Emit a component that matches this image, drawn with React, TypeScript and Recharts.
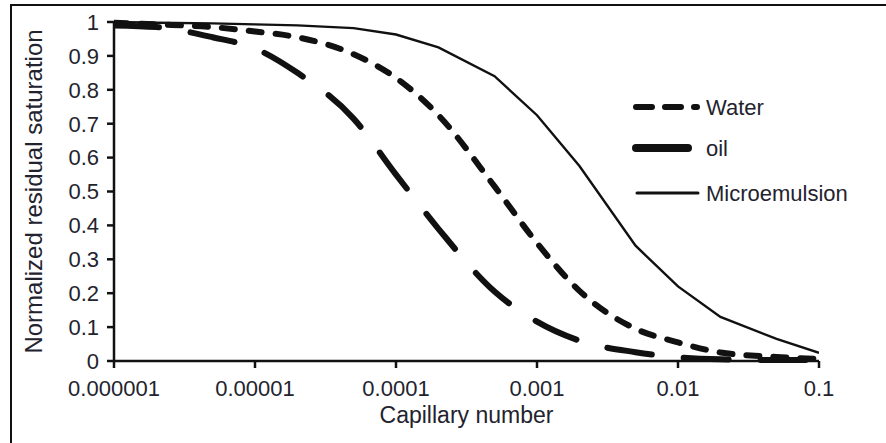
import React from 'react';
import { LineChart, Line, XAxis, YAxis, Legend } from 'recharts';

const capillaryNumber = [1e-6, 2e-6, 5e-6, 1e-5, 2e-5, 5e-5, 1e-4, 2e-4, 5e-4, 1e-3, 2e-3, 5e-3, 1e-2, 2e-2, 5e-2, 1e-1];
const waterSat = [0.998, 0.993, 0.985, 0.972, 0.955, 0.905, 0.835, 0.725, 0.515, 0.348, 0.207, 0.095, 0.055, 0.025, 0.012, 0.006];
const oilSat = [0.99, 0.985, 0.955, 0.922, 0.85, 0.715, 0.55, 0.39, 0.205, 0.116, 0.06, 0.026, 0.011, 0.005, 0.003, 0.003];
const microSat = [1.0, 0.998, 0.996, 0.993, 0.99, 0.982, 0.963, 0.925, 0.84, 0.725, 0.575, 0.34, 0.22, 0.13, 0.065, 0.024];

const xTicks = [1e-6, 1e-5, 1e-4, 1e-3, 1e-2, 1e-1];
const xTickLabels = ['0.000001', '0.00001', '0.0001', '0.001', '0.01', '0.1'];
const yTicks = [0, 0.1, 0.2, 0.3, 0.4, 0.5, 0.6, 0.7, 0.8, 0.9, 1];
const yTickLabels = ['0', '0.1', '0.2', '0.3', '0.4', '0.5', '0.6', '0.7', '0.8', '0.9', '1'];

const seriesNames = ['Water', 'oil', 'Microemulsion'];

const data = capillaryNumber.map((c, i) => ({
  c,
  water: waterSat[i],
  oil: oilSat[i],
  micro: microSat[i],
}));

const FONT = '"Liberation Sans", Arial, Helvetica, sans-serif';
const INK = '#111';
const TEXT = '#23232e';

const renderLegend = () => (
  <svg width={266} height={130} style={{ display: 'block', overflow: 'visible' }}>
    <line x1={16} y1={22} x2={77} y2={22} stroke={INK} strokeWidth={6} strokeLinecap="round" strokeDasharray="16 13" />
    <text x={86} y={30} fontSize={22} fill={TEXT} fontFamily={FONT}>{seriesNames[0]}</text>
    <line x1={16} y1={63} x2={68} y2={63} stroke={INK} strokeWidth={8} strokeLinecap="round" />
    <text x={86} y={71} fontSize={22} fill={TEXT} fontFamily={FONT}>{seriesNames[1]}</text>
    <line x1={17} y1={108} x2={78} y2={108} stroke={INK} strokeWidth={3} strokeLinecap="round" />
    <text x={86} y={116} fontSize={22} fill={TEXT} fontFamily={FONT}>{seriesNames[2]}</text>
  </svg>
);

export default function App() {
  return (
    <div style={{ position: 'absolute', left: 0, top: 0, width: 886, height: 443, overflow: 'hidden', background: '#fff' }}>
      <div style={{ position: 'absolute', left: 10, top: 4, width: 900, height: 470, border: '2px solid #111' }} />
      <div style={{ position: 'absolute', left: 0, top: 0 }}>
        <LineChart width={886} height={443} data={data} margin={{ top: 22, right: 67, bottom: 32, left: 54 }}>
          <XAxis
            dataKey="c"
            type="number"
            scale="log"
            domain={[1e-6, 0.1]}
            ticks={xTicks}
            allowDataOverflow
            height={50}
            tickFormatter={(v: number) => xTickLabels[xTicks.findIndex((t) => Math.abs(Math.log10(t) - Math.log10(v)) < 1e-6)] ?? String(v)}
            tick={{ fill: TEXT, fontSize: 22, fontFamily: FONT }}
            tickSize={7}
            tickMargin={12}
            axisLine={{ stroke: INK, strokeWidth: 2.5 }}
            tickLine={{ stroke: INK, strokeWidth: 2.5 }}
            label={{
              content: (props: any) => {
                const vb = props.viewBox || { x: 114, y: 361, width: 705 };
                return (
                  <text x={vb.x + vb.width / 2} y={vb.y + 62} textAnchor="middle" fontSize={23} fill={TEXT} fontFamily={FONT}>
                    Capillary number
                  </text>
                );
              },
            }}
          />
          <YAxis
            type="number"
            domain={[0, 1]}
            ticks={yTicks}
            width={60}
            interval={0}
            tickFormatter={(v: number) => yTickLabels[Math.round(v * 10)]}
            tick={{ fill: TEXT, fontSize: 22, fontFamily: FONT }}
            tickSize={7}
            tickMargin={8}
            axisLine={{ stroke: INK, strokeWidth: 2.5 }}
            tickLine={{ stroke: INK, strokeWidth: 2.5 }}
            label={{
              content: (props: any) => {
                const vb = props.viewBox || { x: 54, y: 22, height: 339 };
                const cx = 42;
                const cy = vb.y + vb.height / 2;
                return (
                  <text x={cx} y={cy} transform={`rotate(-90, ${cx}, ${cy})`} textAnchor="middle" fontSize={24} fill={TEXT} fontFamily={FONT}>
                    Normalized residual saturation
                  </text>
                );
              },
            }}
          />
          <Legend
            layout="horizontal"
            verticalAlign="middle"
            align="center"
            content={renderLegend}
            wrapperStyle={{ position: 'absolute', left: 620, top: 85, width: 266, height: 130 }}
          />
          <Line type="linear" dataKey="micro" name={seriesNames[2]} stroke={INK} strokeWidth={2.4} dot={false} isAnimationActive={false} />
          <Line type="monotone" dataKey="water" name={seriesNames[0]} stroke={INK} strokeWidth={6} strokeLinecap="round" strokeDasharray="13 14" dot={false} isAnimationActive={false} />
          <Line type="monotone" dataKey="oil" name={seriesNames[1]} stroke={INK} strokeWidth={6} strokeLinecap="round" strokeDasharray="45 32" dot={false} isAnimationActive={false} />
        </LineChart>
      </div>
    </div>
  );
}
